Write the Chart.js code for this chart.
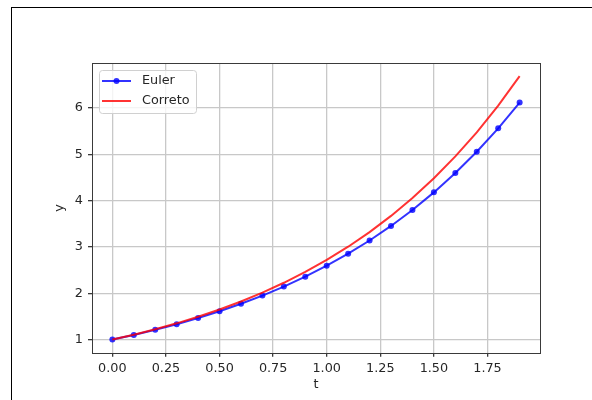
<!DOCTYPE html>
<html>
<head>
<meta charset="utf-8">
<script src="https://cdn.jsdelivr.net/npm/chart.js@4"></script>
<style>
  body { margin: 0; background: #fff; }
  #wrap { position: relative; width: 592px; height: 400px; overflow: hidden; }
  #frame { position: absolute; left: 11px; top: 7px; width: 600px; height: 400px;
           border-left: 1px solid #000; border-top: 1px solid #000; }
  canvas { position: absolute; left: 0; top: 0; }
</style>
</head>
<body>
<div id="wrap">
  <div id="frame"></div>
  <canvas id="eulerChart" width="592" height="400"></canvas>
</div>
<script>
// t from 0 to 1.9, step 0.1
const tValues = [0.0, 0.1, 0.2, 0.3, 0.4, 0.5, 0.6, 0.7, 0.8, 0.9,
                 1.0, 1.1, 1.2, 1.3, 1.4, 1.5, 1.6, 1.7, 1.8, 1.9]
// Euler approximation
const eulerValues = [1.0, 1.1, 1.21, 1.331, 1.4641, 1.6105, 1.7716, 1.9487, 2.1436, 2.3579,
                     2.5937, 2.8531, 3.1384, 3.4523, 3.7975, 4.1772, 4.595, 5.0545, 5.5599, 6.1159]
// exact solution
const exactValues = [1.0, 1.1052, 1.2214, 1.3499, 1.4918, 1.6487, 1.8221, 2.0138, 2.2255, 2.4596,
                     2.7183, 3.0042, 3.3201, 3.6693, 4.0552, 4.4817, 4.953, 5.4739, 6.0496, 6.6859]
const xTicks = [0, 0.25, 0.5, 0.75, 1.0, 1.25, 1.5, 1.75]
const yTicks = [1, 2, 3, 4, 5, 6]

const FONT = 'DejaVu Sans'
const TEXT = '#262626'

function pts(xs, ys) {
    return xs.map((x, i) => ({ x: x, y: ys[i] }))
}

// full box around the plot area
const frameBox = {
    id: 'frameBox',
    afterDatasetsDraw(chart) {
        const a = chart.chartArea
        const ctx = chart.ctx
        ctx.save()
        ctx.strokeStyle = '#3a3a3a'
        ctx.lineWidth = 1
        ctx.strokeRect(Math.round(a.left) + 0.5, Math.round(a.top) + 0.5,
                       Math.round(a.right - a.left), Math.round(a.bottom - a.top))
        ctx.restore()
    }
}

// legend in the upper left corner of the plot
const boxLegend = {
    id: 'boxLegend',
    afterDraw(chart) {
        const a = chart.chartArea
        const ctx = chart.ctx
        const x0 = a.left + 7, y0 = a.top + 7, w = 97, h = 43
        ctx.save()
        ctx.fillStyle = 'rgba(255,255,255,0.8)'
        ctx.strokeStyle = '#d0d0d0'
        ctx.lineWidth = 1
        ctx.beginPath()
        ctx.roundRect(x0 + 0.5, y0 + 0.5, w, h, 3)
        ctx.fill()
        ctx.stroke()
        chart.data.datasets.forEach((ds, i) => {
            const ly = y0 + 11 + i * 20
            ctx.strokeStyle = ds.borderColor
            ctx.lineWidth = ds.borderWidth
            ctx.beginPath()
            ctx.moveTo(x0 + 3, ly)
            ctx.lineTo(x0 + 32, ly)
            ctx.stroke()
            if (ds.pointRadius > 0) {
                ctx.fillStyle = ds.pointBackgroundColor
                ctx.beginPath()
                ctx.arc(x0 + 17.5, ly, ds.pointRadius, 0, Math.PI * 2)
                ctx.fill()
            }
            ctx.fillStyle = TEXT
            ctx.font = '12.8px ' + FONT
            ctx.textBaseline = 'middle'
            ctx.fillText(ds.label, x0 + 43, ly)
        })
        ctx.restore()
    }
}

const ctx = document.getElementById('eulerChart')
new Chart(ctx, {
    type: 'line',
    data: {
        datasets: [{
            label: 'Euler',
            data: pts(tValues, eulerValues),
            borderColor: 'rgba(0,0,255,0.8)',
            backgroundColor: 'rgba(0,0,255,0.8)',
            pointBackgroundColor: 'rgba(0,0,255,0.8)',
            pointBorderWidth: 0,
            pointRadius: 3,
            borderWidth: 2,
            order: 2
        }, {
            label: 'Correto',
            data: pts(tValues, exactValues),
            borderColor: 'rgba(255,0,0,0.8)',
            backgroundColor: 'rgba(255,0,0,0.8)',
            pointRadius: 0,
            borderWidth: 2,
            order: 1
        }]
    },
    options: {
        responsive: false,
        animation: false,
        layout: { padding: { left: 52, right: 52, top: 63, bottom: 8 } },
        plugins: {
            legend: { display: false },
            tooltip: { enabled: false }
        },
        scales: {
            x: {
                type: 'linear',
                min: -0.095,
                max: 1.995,
                afterBuildTicks: (s) => { s.ticks = xTicks.map(v => ({ value: v })) },
                afterFit: (s) => { s.height = 39.3 },
                border: { display: false },
                grid: { color: '#c8c8c8', tickColor: '#3a3a3a', tickLength: 4, lineWidth: 1.3 },
                ticks: {
                    color: TEXT, padding: 4, maxRotation: 0,
                    font: { family: FONT, size: 12.8 },
                    callback: (v) => v.toFixed(2)
                },
                title: {
                    display: true, text: 't', color: TEXT, padding: 0,
                    font: { family: FONT, size: 12.8 }
                }
            },
            y: {
                min: 0.716,
                max: 6.97,
                afterBuildTicks: (s) => { s.ticks = yTicks.map(v => ({ value: v })) },
                afterFit: (s) => { s.width = 40 },
                border: { display: false },
                grid: { color: '#c8c8c8', tickColor: '#3a3a3a', tickLength: 4, lineWidth: 1.3 },
                ticks: {
                    color: TEXT, padding: 5,
                    font: { family: FONT, size: 12.8 }
                },
                title: {
                    display: true, text: 'y', color: TEXT, padding: 0,
                    font: { family: FONT, size: 12.8 }
                }
            }
        }
    },
    plugins: [frameBox, boxLegend]
})
</script>
</body>
</html>
